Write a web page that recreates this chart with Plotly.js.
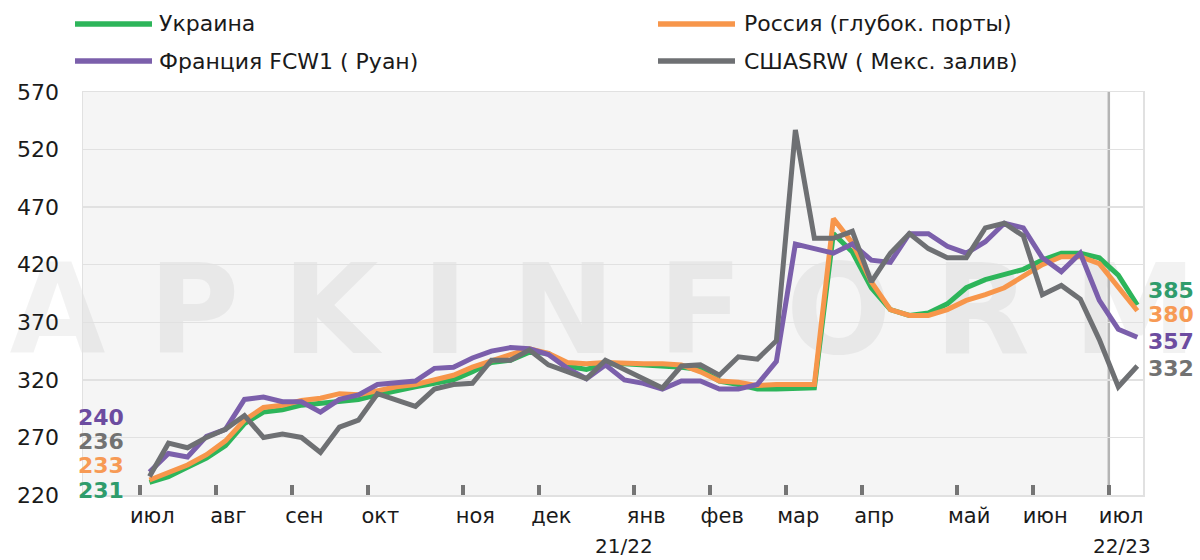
<!DOCTYPE html>
<html><head><meta charset="utf-8">
<script src="https://cdn.plot.ly/plotly-3.0.1.min.js"></script>
<style>html,body{margin:0;padding:0;background:#fff}#chart{width:1200px;height:560px}</style>
</head><body><div id="chart"></div>
<script>
// ---- data (weekly, Jul 2021 - Jul 2022), USD/t ----
const seriesNames = ['Украина', 'Россия (глубок. порты)', 'Франция FCW1 ( Руан)', 'СШАSRW ( Мекс. залив)'];
const monthNames = ['июл','авг','сен','окт','ноя','дек','янв','фев','мар','апр','май','июн','июл'];
const monthStartWeek = [0, 4, 8, 12, 17, 21, 26, 30, 34, 38, 43, 47, 51];
const seasonNames = ['21/22', '22/23'];
const yTicks = [220, 270, 320, 370, 420, 470, 520, 570];

const ukraine = [231,236,244,252,263,282,292,294,298,300,302,303,307,311,314,317,320,327,335,337,344,343,332,329,334,334,333,333,331,329,319,316,312,312,312,313,447,431,400,381,376,378,386,400,407,411,416,424,430,430,426,411,385];
const russia  = [233,239,246,255,267,285,296,298,302,304,308,307,311,314,316,320,324,331,337,342,347,343,335,334,335,334,334,334,333,327,319,318,315,316,316,316,460,439,405,381,376,376,381,389,394,400,410,420,427,427,421,401,380];
const france  = [240,256,253,271,277,303,305,301,301,292,303,307,316,317,319,330,331,339,345,348,347,342,330,321,333,320,317,312,319,319,312,312,316,336,438,434,430,438,424,422,447,447,436,430,440,456,452,426,414,430,389,364,357];
const usa     = [236,265,261,270,277,289,270,273,270,257,279,285,308,303,297,312,316,317,337,337,346,333,327,321,337,329,320,313,332,333,324,340,338,354,537,443,443,449,405,430,447,434,426,426,452,456,445,394,402,390,355,314,332];

const allSeries = [ukraine, russia, france, usa];
const lineColors = ['#2db55a', '#f7964b', '#7b5fab', '#6e7073'];
const labelColors = ['#2f9c6c', '#f79a55', '#6c4ca0', '#727272'];

// ---- layout helpers ----
const L = 83, T = 92, W = 1060, H = 403;
const px = x => (x - L) / W;
const py = y => (T + H - y) / H;
const xRange = [-3.5, 52.3];
const xPaper = v => (v - xRange[0]) / (xRange[1] - xRange[0]);
const FONT = 'DejaVu Sans';
const seasonStart = monthStartWeek[monthStartWeek.length - 1] - 0.5;

const traces = allSeries.map((s, i) => ({
  type: 'scatter', mode: 'lines', name: seriesNames[i],
  x: s.map((_, k) => k), y: s,
  line: {color: lineColors[i], width: 5},
  showlegend: false, hoverinfo: 'x+y+name'
}));

const shapes = [
  // light gray background of the 21/22 season
  {type: 'rect', xref: 'paper', yref: 'paper', x0: 0, x1: xPaper(seasonStart), y0: 0, y1: 1,
   fillcolor: '#f5f5f5', line: {width: 0}, layer: 'below'},
  // watermark
  {type: 'rect', xref: 'paper', yref: 'paper', x0: px(6), x1: px(1200), y0: py(352), y1: py(250),
   fillcolor: 'rgba(0,0,0,0)', line: {width: 0}, layer: 'below',
   label: {text: 'A P K I N F O R M', textposition: 'middle center',
           font: {family: FONT, size: 124, weight: 'bold', color: 'rgba(0,0,0,0.05)'}}},
  // season divider
  {type: 'line', xref: 'x', yref: 'paper', x0: seasonStart, x1: seasonStart, y0: 0, y1: 1,
   line: {color: '#b4b4b4', width: 2.5}, layer: 'between'}
];

// custom legend (2 x 2)
const legendPos = [
  {x0: 75, x1: 152, tx: 157, y: 24},
  {x0: 658, x1: 735, tx: 742, y: 24},
  {x0: 75, x1: 152, tx: 157, y: 61},
  {x0: 658, x1: 735, tx: 742, y: 61}
];
const annotations = [];
legendPos.forEach((p, i) => {
  shapes.push({type: 'line', xref: 'paper', yref: 'paper', x0: px(p.x0), x1: px(p.x1), y0: py(p.y), y1: py(p.y),
               line: {color: lineColors[i], width: 5.5}});
  annotations.push({xref: 'paper', yref: 'paper', x: px(p.tx), y: py(p.y), xanchor: 'left', yanchor: 'middle',
                    text: seriesNames[i], showarrow: false, font: {family: FONT, size: 22, color: '#1a1a1a'}});
});

// start / end value labels
const startY = [490, 465, 417, 441];
const endY = [290, 314, 341, 368];
allSeries.forEach((s, i) => {
  annotations.push({xref: 'paper', yref: 'paper', x: px(76), y: py(startY[i]), xanchor: 'left', yanchor: 'middle',
    text: '<b>' + s[0] + '</b>', showarrow: false, font: {family: FONT, size: 22, color: labelColors[i]}});
  annotations.push({xref: 'paper', yref: 'paper', x: px(1146), y: py(endY[i]), xanchor: 'left', yanchor: 'middle',
    text: '<b>' + s[s.length - 1] + '</b>', showarrow: false, font: {family: FONT, size: 22, color: labelColors[i]}});
});

// season labels
[25.0, 51.2].forEach((xv, i) => {
  annotations.push({xref: 'x', yref: 'paper', x: xv, y: py(546), xanchor: 'center', yanchor: 'middle',
    text: seasonNames[i], showarrow: false, font: {family: FONT, size: 20, color: '#1a1a1a'}});
});

const layout = {
  width: 1200, height: 560,
  margin: {l: L, r: 1200 - L - W, t: T, b: 560 - T - H, pad: 0},
  paper_bgcolor: '#ffffff', plot_bgcolor: '#ffffff',
  font: {family: FONT, color: '#1a1a1a'},
  showlegend: false,
  xaxis: {
    range: xRange, tickmode: 'array',
    tickvals: monthStartWeek.map(v => v + 0.15), ticktext: monthNames,
    ticks: '', showgrid: false, zeroline: false,
    showline: true, mirror: true, linecolor: '#e1e1e1', linewidth: 1.5,
    tickfont: {family: FONT, size: 21, color: '#1a1a1a'},
    ticklabelstandoff: 1,
    minor: {tickmode: 'array', tickvals: monthStartWeek.map(v => v - 0.5),
            ticks: 'inside', ticklen: 10, tickwidth: 3.5, tickcolor: '#757575', showgrid: false}
  },
  xaxis2: {
    overlaying: 'x', anchor: 'y', matches: 'x', range: xRange,
    tickmode: 'linear', tick0: -0.5, dtick: 1,
    showgrid: true, gridcolor: '#e1e1e1', gridwidth: 1.5,
    showticklabels: false, ticks: '', zeroline: false, showline: false
  },
  yaxis: {
    range: [220, 570], tickmode: 'array', tickvals: yTicks,
    showgrid: true, gridcolor: '#e1e1e1', gridwidth: 1.5, zeroline: false,
    showline: true, mirror: true, linecolor: '#e1e1e1', linewidth: 1.5,
    ticks: '', tickfont: {family: FONT, size: 22, color: '#1a1a1a'},
    ticklabelstandoff: 18
  },
  shapes: shapes,
  annotations: annotations
};

Plotly.newPlot('chart', traces, layout, {displayModeBar: false, staticPlot: true});
</script>
</body></html>
